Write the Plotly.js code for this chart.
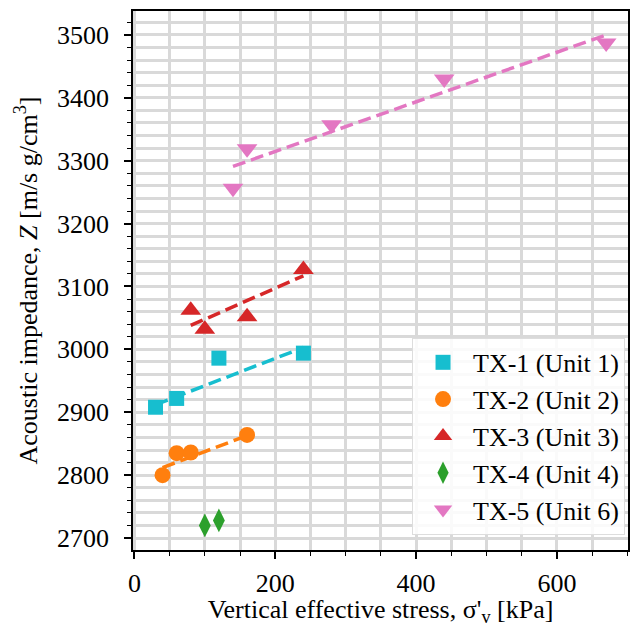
<!DOCTYPE html>
<html>
<head>
<meta charset="utf-8">
<script src="https://cdn.plot.ly/plotly-3.0.1.min.js"></script>
</head>
<body style="margin:0">
<div id="chart" style="width:633px;height:627px"></div>
<pre id="note" style="font-size:12px;margin:0"></pre>
<script>
// Data
const seriesNames = ["TX-1 (Unit 1)", "TX-2 (Unit 2)", "TX-3 (Unit 3)", "TX-4 (Unit 4)", "TX-5 (Unit 6)"];
const tx1Stress = [30, 60, 120, 240];
const tx1Imp = [2908, 2922, 2986, 2994];
const tx2Stress = [40, 60, 80, 160];
const tx2Imp = [2800, 2835, 2836, 2864];
const tx3Stress = [80, 100, 160, 240];
const tx3Imp = [3062, 3032, 3052, 3127];
const tx4Stress = [100, 120];
const tx4Imp = [2720, 2728];
const tx5Stress = [140, 160, 280, 440, 670];
const tx5Imp = [3256, 3319, 3357, 3430, 3487];
// dashed trend lines (end points)
const tx1TrendX = [30, 240], tx1TrendY = [2912, 3003];
const tx2TrendX = [40, 160], tx2TrendY = [2812, 2863];
const tx3TrendX = [80, 240], tx3TrendY = [3038, 3117];
const tx5TrendX = [140, 670], tx5TrendY = [3291, 3500];

const colors = ["#17becf", "#ff7f0e", "#d62728", "#2ca02c", "#e377c2"];
const symbols = ["square", "circle", "triangle-up", "diamond-tall", "triangle-down"];
const sizes = [15, 16, 18, 17, 18];
const pts = [[tx1Stress, tx1Imp], [tx2Stress, tx2Imp], [tx3Stress, tx3Imp], [tx4Stress, tx4Imp], [tx5Stress, tx5Imp]];
const trends = [[tx1TrendX, tx1TrendY, 0], [tx2TrendX, tx2TrendY, 1], [tx3TrendX, tx3TrendY, 2], [tx5TrendX, tx5TrendY, 4]];

const traces = [];
trends.forEach(t => {
  traces.push({x: t[0], y: t[1], mode: 'lines', showlegend: false, hoverinfo: 'skip',
    line: {color: colors[t[2]], width: 3.5, dash: '13px,6px'}});
});
pts.forEach((p, i) => {
  traces.push({x: p[0], y: p[1], mode: 'markers', name: seriesNames[i],
    marker: {symbol: symbols[i], size: sizes[i], color: colors[i], line: {width: 0}}});
});

const FAM = 'Liberation Serif, serif';
function mkFont() { return {family: FAM, size: 26, color: '#000000'}; }
const layout = {
  width: 633, height: 627,
  margin: {l: 133, r: 5, t: 11, b: 77},
  font: mkFont(),
  showlegend: true,
  legend: {x: 0.994, y: 0.028, xanchor: 'right', yanchor: 'bottom',
    bgcolor: 'rgba(255,255,255,0.85)', bordercolor: '#dddddd', borderwidth: 1,
    font: mkFont(), itemwidth: 50},
  xaxis: {
    range: [-2, 701], tick0: 0, dtick: 200, ticks: 'outside', ticklen: 7, tickwidth: 1.5, tickcolor: '#000000',
    showline: true, mirror: true, linecolor: '#000000', linewidth: 1.5,
    showgrid: true, gridcolor: '#d9d9d9', gridwidth: 2.5, zeroline: false,
    minor: {dtick: 50, tick0: 0, ticks: 'outside', ticklen: 4, tickwidth: 1.2, tickcolor: '#000000', showgrid: true, gridcolor: '#d9d9d9', gridwidth: 2.5},
    tickfont: mkFont(), ticklabelstandoff: 2,
    title: {text: "Vertical effective stress, σ'<sub>v</sub> [kPa]", font: mkFont(), standoff: 4}
  },
  yaxis: {
    range: [2681, 3538], tick0: 2700, dtick: 100, ticks: 'outside', ticklen: 7, tickwidth: 1.5, tickcolor: '#000000',
    showline: true, mirror: true, linecolor: '#000000', linewidth: 1.5,
    showgrid: true, gridcolor: '#d9d9d9', gridwidth: 2.5, zeroline: false,
    minor: {dtick: 20, tick0: 2700, ticks: 'outside', ticklen: 4, tickwidth: 1.2, tickcolor: '#000000', showgrid: true, gridcolor: '#d9d9d9', gridwidth: 2.5},
    tickfont: mkFont(), ticklabelstandoff: 10,
    title: {text: "Acoustic impedance, <i>Z</i> [m/s g/cm<sup>3</sup>]", font: mkFont(), standoff: 12}
  }
};
Plotly.newPlot('chart', traces, layout, {displayModeBar: false}).then(gd => {
  const fams = [];
  gd.querySelectorAll('text').forEach((t, i) => { if (i < 3) fams.push(getComputedStyle(t).fontFamily); });
  document.getElementById('note').textContent = fams.join('; ');
});
</script>
</body>
</html>
